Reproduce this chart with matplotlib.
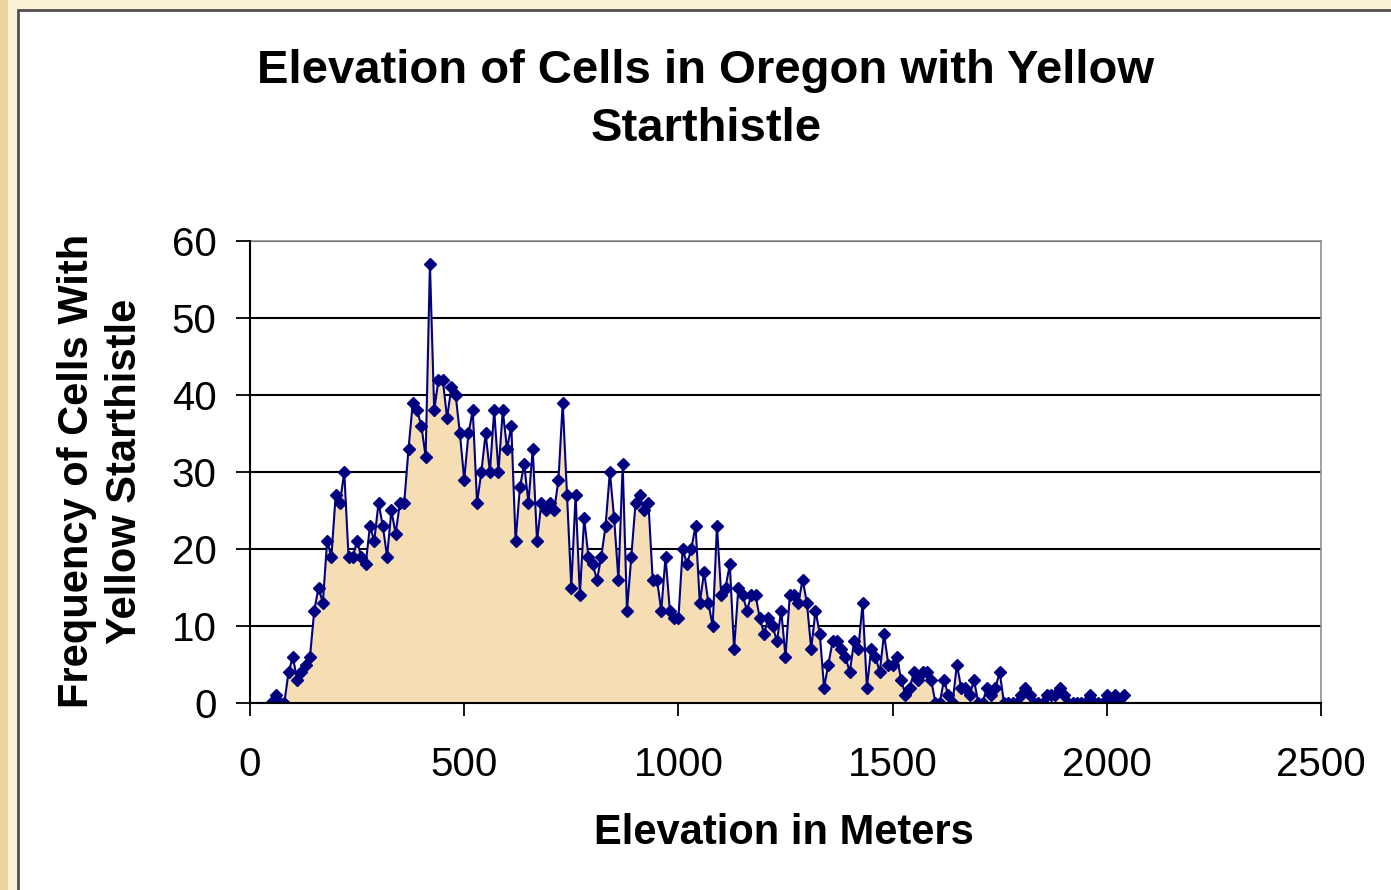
import matplotlib
matplotlib.use("Agg")
import matplotlib.pyplot as plt
from matplotlib.patches import Rectangle

# ---- data ----
elevation = [50, 60, 70, 80, 90, 100, 110, 120, 130, 140, 150, 160, 170, 180, 190, 200, 210, 220, 230, 240,
             250, 260, 270, 280, 290, 300, 310, 320, 330, 340, 350, 360, 370, 380, 390, 400, 410, 420, 430, 440,
             450, 460, 470, 480, 490, 500, 510, 520, 530, 540, 550, 560, 570, 580, 590, 600, 610, 620, 630, 640,
             650, 660, 670, 680, 690, 700, 710, 720, 730, 740, 750, 760, 770, 780, 790, 800, 810, 820, 830, 840,
             850, 860, 870, 880, 890, 900, 910, 920, 930, 940, 950, 960, 970, 980, 990, 1000, 1010, 1020, 1030, 1040,
             1050, 1060, 1070, 1080, 1090, 1100, 1110, 1120, 1130, 1140, 1150, 1160, 1170, 1180, 1190, 1200, 1210, 1220, 1230, 1240,
             1250, 1260, 1270, 1280, 1290, 1300, 1310, 1320, 1330, 1340, 1350, 1360, 1370, 1380, 1390, 1400, 1410, 1420, 1430, 1440,
             1450, 1460, 1470, 1480, 1490, 1500, 1510, 1520, 1530, 1540, 1550, 1560, 1570, 1580, 1590, 1600, 1610, 1620, 1630, 1640,
             1650, 1660, 1670, 1680, 1690, 1700, 1710, 1720, 1730, 1740, 1750, 1760, 1770, 1780, 1790, 1800, 1810, 1820, 1830, 1840,
             1850, 1860, 1870, 1880, 1890, 1900, 1910, 1920, 1930, 1940, 1950, 1960, 1970, 1980, 1990, 2000, 2010, 2020, 2030, 2040]

frequency = [0, 1, 0, 0, 4, 6, 3, 4, 5, 6, 12, 15, 13, 21, 19, 27, 26, 30, 19, 19,
             21, 19, 18, 23, 21, 26, 23, 19, 25, 22, 26, 26, 33, 39, 38, 36, 32, 57, 38, 42,
             42, 37, 41, 40, 35, 29, 35, 38, 26, 30, 35, 30, 38, 30, 38, 33, 36, 21, 28, 31,
             26, 33, 21, 26, 25, 26, 25, 29, 39, 27, 15, 27, 14, 24, 19, 18, 16, 19, 23, 30,
             24, 16, 31, 12, 19, 26, 27, 25, 26, 16, 16, 12, 19, 12, 11, 11, 20, 18, 20, 23,
             13, 17, 13, 10, 23, 14, 15, 18, 7, 15, 14, 12, 14, 14, 11, 9, 11, 10, 8, 12,
             6, 14, 14, 13, 16, 13, 7, 12, 9, 2, 5, 8, 8, 7, 6, 4, 8, 7, 13, 2,
             7, 6, 4, 9, 5, 5, 6, 3, 1, 2, 4, 3, 4, 4, 3, 0, 0, 3, 1, 0,
             5, 2, 2, 1, 3, 0, 0, 2, 1, 2, 4, 0, 0, 0, 0, 1, 2, 1, 0, 0,
             0, 1, 1, 1, 2, 1, 0, 0, 0, 0, 0, 1, 0, 0, 0, 1, 0, 1, 0, 1]

x_ticks = [0, 500, 1000, 1500, 2000, 2500]
y_ticks = [0, 10, 20, 30, 40, 50, 60]

title = "Elevation of Cells in Oregon with Yellow\nStarthistle"
x_label = "Elevation in Meters"
y_label = "Frequency of Cells With\nYellow Starthistle"

# ---- figure ----
W, H = 1391, 890
fig = plt.figure(figsize=(W / 100, H / 100), dpi=100)
fig.patch.set_facecolor("#FBF1D6")
# darker beige strip on left
fig.patches.append(Rectangle((0, 0), 8 / W, 1, transform=fig.transFigure,
                             facecolor="#EAD4A0", edgecolor="none", zorder=-2))
# white chart area with grey border
fig.patches.append(Rectangle((18 / W, -0.01), 1.02 - 18 / W, (H - 10) / H + 0.01,
                             transform=fig.transFigure, facecolor="white",
                             edgecolor="#505050", linewidth=2, zorder=-1))

ax = fig.add_axes([250 / W, (H - 703) / H, (1321 - 250) / W, (703 - 241) / H])
ax.set_zorder(5)
ax.set_facecolor("white")

ax.fill_between(elevation, frequency, 0, color="#F5DEB3", linewidth=0, zorder=2)
ax.plot(elevation, frequency, color="#000080", linewidth=1.5, marker="D",
        markersize=6.5, markerfacecolor="#000080", markeredgecolor="#000080", zorder=3)

ax.set_xlim(0, 2500)
ax.set_ylim(0, 60)
ax.set_xticks(x_ticks)
ax.set_yticks(y_ticks)
ax.yaxis.grid(True, color="black", linewidth=1.5, zorder=1)
ax.set_axisbelow(True)

for s in ["top", "right"]:
    ax.spines[s].set_color("#909090")
    ax.spines[s].set_linewidth(1.2)
for s in ["left", "bottom"]:
    ax.spines[s].set_color("black")
    ax.spines[s].set_linewidth(1.5)
    ax.spines[s].set_zorder(4)

ax.tick_params(axis="both", direction="out", width=1.3, colors="black", labelsize=29)
ax.tick_params(axis="y", length=10, pad=14)
ax.tick_params(axis="x", length=9, pad=22)
for lab in ax.get_xticklabels() + ax.get_yticklabels():
    lab.set_fontfamily("Liberation Sans")

fig.text(706 / W, 1 - 100 / H, title, ha="center", va="center", fontsize=34,
         fontweight="bold", family="Liberation Sans", linespacing=1.42)
fig.text(784 / W, 1 - 833 / H, x_label, ha="center", va="center", fontsize=30,
         fontweight="bold", family="Liberation Sans")
fig.text(101 / W, 1 - 471 / H, y_label, ha="center", va="center", fontsize=30,
         fontweight="bold", family="Liberation Sans", rotation=90, linespacing=1.25)

fig.savefig("out.png", dpi=100, facecolor=fig.get_facecolor())
